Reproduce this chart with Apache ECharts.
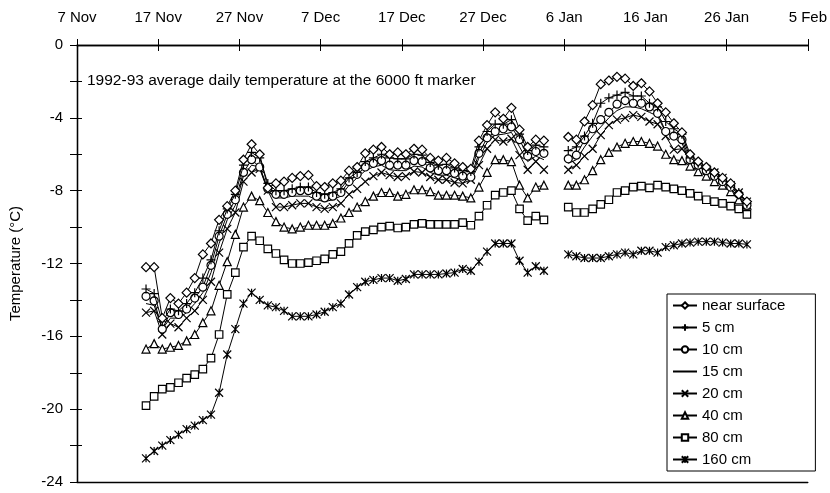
<!DOCTYPE html>
<html><head><meta charset="utf-8">
<script src="https://cdn.jsdelivr.net/npm/echarts@6/dist/echarts.min.js"></script>
<style>html,body{margin:0;padding:0;background:#fff}#c{width:830px;height:493px}</style>
</head><body><div id="c"></div>
<script>
// x tick labels (every 10 days from 7 Nov 1992)
const tickLabels = ['7 Nov','17 Nov','27 Nov','7 Dec','17 Dec','27 Dec','6 Jan','16 Jan','26 Jan','5 Feb'];
// first data day: 15 Nov 1992 (8 days after 7 Nov); daily means plotted at mid-day
const firstDay = 8;
const seriesNames = ['near surface','5 cm','10 cm','15 cm','20 cm','40 cm','80 cm','160 cm'];

const nearSurface = [-12.2,-12.2,-15.0,-13.9,-14.2,-13.6,-12.8,-11.5,-10.9,-9.6,
 -8.85,-8.0,-6.3,-5.45,-6.0,-7.85,-7.6,-7.5,-7.3,-7.2,
 -7.15,-7.75,-7.8,-7.6,-7.45,-6.9,-6.7,-5.95,-5.75,-5.6,
 -6.0,-5.9,-6.0,-5.7,-5.75,-6.2,-6.35,-6.2,-6.5,-6.7,
 -6.8,-5.25,-4.4,-3.7,-4.05,-3.45,-4.65,-5.6,-5.2,-5.25,
 null,null,
 -5.05,-5.2,-4.2,-3.3,-2.15,-1.95,-1.75,-1.85,-2.25,-2.1,-2.55,-3.2,-3.7,-4.3,-4.8,-6.0,-6.4,-6.7,-7.0,-7.3,-7.6,-8.2,-8.6];
const cm5 = [-13.4,-13.65,-15.2,-14.5,-14.6,-14.2,-13.6,-12.8,-11.8,-10.2,
 -9.0,-8.2,-6.6,-5.9,-6.2,-7.6,-8.0,-8.0,-7.9,-7.8,
 -7.8,-8.1,-8.2,-8.1,-7.9,-7.3,-7.0,-6.4,-6.2,-6.0,
 -6.2,-6.25,-6.25,-6.0,-6.05,-6.45,-6.6,-6.55,-6.75,-6.9,
 -6.95,-5.6,-4.75,-4.35,-4.35,-4.1,-4.9,-5.8,-5.5,-5.6,
 null,null,
 -5.8,-5.6,-5.0,-4.3,-3.2,-2.9,-2.75,-2.6,-2.8,-2.8,-3.2,-3.4,-4.2,-4.6,-4.9,-6.2,-6.5,-6.8,-7.1,-7.4,-7.7,-8.1,-8.7];
const cm10 = [-13.8,-14.05,-15.6,-14.7,-14.8,-14.5,-13.9,-13.3,-12.1,-10.5,
 -9.3,-8.5,-7.0,-6.3,-6.7,-7.9,-8.2,-8.2,-8.1,-8.0,
 -8.0,-8.3,-8.4,-8.3,-8.1,-7.5,-7.1,-6.7,-6.5,-6.35,
 -6.6,-6.6,-6.6,-6.35,-6.4,-6.75,-6.9,-6.9,-7.05,-7.2,
 -7.25,-5.95,-5.1,-4.75,-4.6,-4.5,-5.2,-6.1,-5.85,-5.95,
 null,null,
 -6.25,-6.05,-5.2,-4.6,-4.1,-3.7,-3.25,-3.05,-3.2,-3.2,-3.4,-3.75,-4.75,-5.0,-5.2,-6.3,-6.6,-6.9,-7.2,-7.5,-7.8,-8.2,-8.8];
const cm15 = [-14.2,-14.3,-15.6,-15.0,-15.0,-14.7,-14.2,-13.6,-12.5,-10.9,
 -9.6,-8.8,-7.2,-6.6,-6.7,-8.0,-8.4,-8.4,-8.3,-8.3,
 -8.3,-8.5,-8.6,-8.5,-8.3,-7.7,-7.3,-6.9,-6.7,-6.6,
 -6.85,-6.9,-6.9,-6.65,-6.7,-7.0,-7.15,-7.15,-7.3,-7.4,
 -7.35,-6.2,-5.35,-4.95,-4.9,-4.8,-5.6,-6.4,-6.1,-6.3,
 null,null,
 -6.5,-6.3,-5.6,-5.0,-4.5,-4.0,-3.6,-3.4,-3.4,-3.5,-3.7,-3.9,-4.8,-5.1,-5.4,-6.4,-6.6,-6.9,-7.2,-7.5,-7.9,-8.3,-8.9];
const cm20 = [-14.7,-14.6,-15.9,-15.3,-15.5,-15.0,-14.6,-14.0,-13.0,-11.4,
 -10.1,-9.2,-7.5,-7.0,-6.8,-8.0,-8.9,-8.9,-8.8,-8.7,
 -8.7,-8.9,-9.0,-8.9,-8.7,-8.2,-7.9,-7.5,-7.2,-7.0,
 -7.15,-7.25,-7.2,-6.95,-7.0,-7.25,-7.4,-7.4,-7.55,-7.6,
 -7.4,-6.6,-5.7,-5.2,-5.3,-5.15,-6.05,-6.85,-6.4,-6.85,
 null,null,
 -6.85,-6.6,-6.1,-5.7,-4.95,-4.4,-4.1,-4.0,-3.85,-3.95,-4.2,-4.35,-5.0,-5.75,-5.7,-6.3,-6.6,-6.8,-7.0,-7.3,-7.7,-8.1,-8.6];
const cm40 = [-16.7,-16.4,-16.7,-16.6,-16.5,-16.25,-15.9,-15.25,-14.6,-13.2,
 -11.9,-10.4,-8.9,-8.3,-8.55,-9.2,-9.7,-10.0,-10.1,-10.0,
 -9.9,-9.9,-9.9,-9.8,-9.5,-9.2,-8.9,-8.6,-8.3,-8.1,
 -8.1,-8.3,-8.2,-7.95,-7.95,-8.05,-8.25,-8.25,-8.25,-8.3,
 -8.4,-7.8,-7.0,-6.3,-6.3,-6.4,-7.7,-8.4,-7.8,-7.7,
 null,null,
 -7.7,-7.7,-7.4,-6.9,-6.3,-5.9,-5.6,-5.4,-5.3,-5.3,-5.4,-5.55,-6.0,-6.3,-6.35,-6.65,-6.95,-7.2,-7.5,-7.7,-8.05,-8.5,-8.8];
const cm80 = [-19.8,-19.3,-18.9,-18.8,-18.55,-18.3,-18.1,-17.8,-17.2,-15.9,
 -13.7,-12.5,-11.1,-10.5,-10.75,-11.2,-11.45,-11.8,-12.0,-12.0,
 -11.95,-11.85,-11.75,-11.5,-11.35,-10.9,-10.45,-10.25,-10.15,-10.0,
 -9.95,-10.05,-10.0,-9.85,-9.8,-9.85,-9.85,-9.85,-9.85,-9.75,
 -9.9,-9.4,-8.8,-8.25,-8.1,-8.0,-9.0,-9.65,-9.4,-9.6,
 null,null,
 -8.9,-9.2,-9.2,-9.0,-8.75,-8.5,-8.1,-8.0,-7.8,-7.75,-7.85,-7.7,-7.8,-7.9,-8.0,-8.15,-8.3,-8.5,-8.6,-8.7,-8.85,-9.0,-9.3];
const cm160 = [-22.7,-22.3,-22.0,-21.7,-21.4,-21.1,-20.9,-20.6,-20.3,-19.1,
 -17.0,-15.6,-14.2,-13.6,-14.0,-14.3,-14.4,-14.6,-14.9,-14.9,
 -14.9,-14.8,-14.65,-14.4,-14.2,-13.7,-13.3,-13.0,-12.9,-12.8,
 -12.8,-12.95,-12.85,-12.6,-12.6,-12.6,-12.6,-12.55,-12.5,-12.3,
 -12.4,-11.9,-11.35,-10.9,-10.9,-10.9,-11.85,-12.5,-12.15,-12.4,
 null,null,
 -11.5,-11.6,-11.7,-11.7,-11.7,-11.6,-11.5,-11.4,-11.5,-11.3,-11.3,-11.4,-11.1,-11.0,-10.9,-10.85,-10.8,-10.8,-10.8,-10.85,-10.9,-10.9,-10.95];

const allValues = [nearSurface, cm5, cm10, cm15, cm20, cm40, cm80, cm160];
const symbols = [
  {s:'diamond', size:9, show:true},
  {s:'path://M5 0L5 10M0 5L10 5', size:9, show:true},
  {s:'circle', size:8, show:true},
  {s:'path://M0 0M10 10M2 4.2H8V5.8H2Z', size:8, show:false},
  {s:'path://M0 0L10 10M10 0L0 10', size:8, show:true},
  {s:'triangle', size:8, show:true},
  {s:'rect', size:7.5, show:true},
  {s:'path://M0 0L10 10M10 0L0 10M5 0L5 10', size:8, show:true}
];

const FONT = 'Liberation Sans, Arial, Helvetica, sans-serif';
const series = allValues.map((vals, k) => ({
  name: seriesNames[k],
  type: 'line',
  xAxisIndex: 0, yAxisIndex: 0,
  data: vals.map((v, i) => [firstDay + i + 0.5, v]),
  symbol: symbols[k].s,
  symbolSize: symbols[k].size,
  showSymbol: symbols[k].show,
  connectNulls: false,
  animation: false,
  lineStyle: {color:'#000', width:1},
  itemStyle: {color: symbols[k].show ? '#fff' : '#000', borderColor:'#000', borderWidth: symbols[k].show ? 1.2 : 0},
  emphasis: {disabled:true},
  z: 10 - k
}));

const chart = echarts.init(document.getElementById('c'), null, {renderer:'canvas'});
chart.setOption({
  backgroundColor:'#fff',
  animation:false,
  grid:{left:77, right:20, top:45, bottom:11},
  title:{text:'1992-93 average daily temperature at the 6000 ft marker', left:82, top:68,
    textStyle:{fontFamily:FONT, fontSize:15.5, fontWeight:'normal', color:'#000'}},
  legend:{
    orient:'vertical', left:667, top:294,
    backgroundColor:'#fff', borderColor:'#000', borderWidth:1, borderRadius:0,
    padding:[4,30,4,5], itemGap:7, itemWidth:24, itemHeight:8,
    textStyle:{fontFamily:FONT, fontSize:15, color:'#000'},
    data: seriesNames
  },
  xAxis:[
    {type:'value', position:'top', min:0, max:90, interval:10,
     axisLine:{show:true, lineStyle:{color:'#000', width:1.3}},
     axisTick:{show:true, inside:false, length:6, lineStyle:{color:'#000'}},
     axisLabel:{margin:20, fontFamily:FONT, fontSize:15, color:'#000',
       formatter:(v)=>tickLabels[Math.round(v/10)]},
     splitLine:{show:false}},
    {type:'value', position:'top', offset:0, min:0, max:90, interval:10,
     axisLine:{show:true, lineStyle:{color:'#000', width:1.3}},
     axisTick:{show:true, inside:true, length:6, lineStyle:{color:'#000'}},
     axisLabel:{show:false}, splitLine:{show:false}},
    {type:'value', position:'bottom', min:0, max:90, interval:10,
     axisLine:{show:true, onZero:false, lineStyle:{color:'#000', width:1.3}}, axisTick:{show:false},
     axisLabel:{show:false}, splitLine:{show:false}}
  ],
  yAxis:[
    {type:'value', min:-24, max:0, interval:2,
     name:'Temperature (°C)', nameLocation:'middle', nameGap:54, nameRotate:90,
     nameTextStyle:{fontFamily:FONT, fontSize:15, color:'#000'},
     axisLine:{show:true, lineStyle:{color:'#000', width:1.3}},
     axisTick:{show:true, inside:false, length:7, lineStyle:{color:'#000'}},
     axisLabel:{margin:14, fontFamily:FONT, fontSize:15, color:'#000',
       formatter:(v)=> (Math.round(v)%4===0 ? String(v) : '')},
     splitLine:{show:false}},
    {type:'value', min:-24, max:0, interval:2, position:'left', offset:0,
     axisLine:{show:true, onZero:false, lineStyle:{color:'#000', width:1.3}},
     axisTick:{show:true, inside:true, length:5, lineStyle:{color:'#000'}},
     axisLabel:{show:false}, splitLine:{show:false}}
  ],
  series: series
});
</script></body></html>
